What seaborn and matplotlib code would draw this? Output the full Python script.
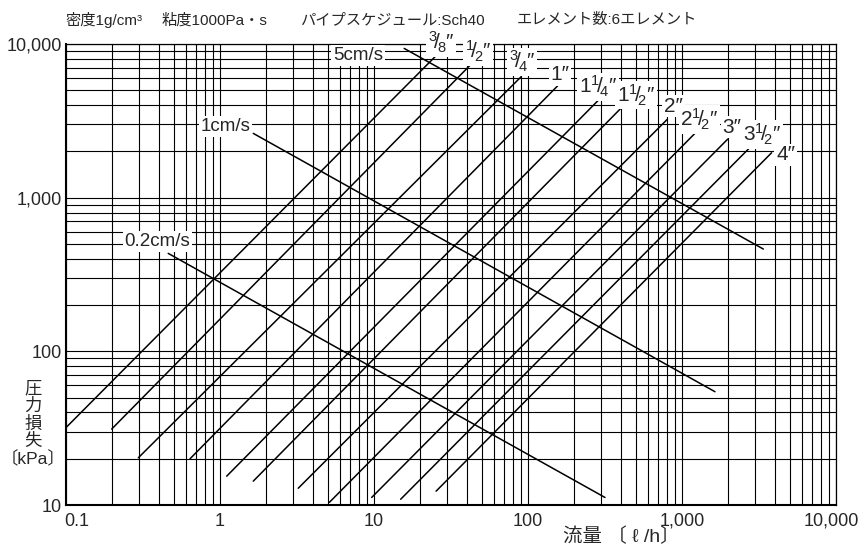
import numpy as np
import pandas as pd
import matplotlib
matplotlib.use("Agg")
import matplotlib.pyplot as plt
import seaborn as sns
from matplotlib.ticker import LogLocator, FixedLocator, NullFormatter

sns.set_style("white")
plt.rcParams['font.family'] = ['Liberation Sans', 'Noto Sans CJK JP', 'DejaVu Sans']
plt.rcParams['mathtext.fontset'] = 'custom'
plt.rcParams['mathtext.rm'] = 'Liberation Sans'
plt.rcParams['mathtext.it'] = 'Liberation Sans'
plt.rcParams['mathtext.bf'] = 'Liberation Sans:bold'

# ---- data ----
pipe_sizes = ["3/8", "1/2", "3/4", "1", "1-1/4", "1-1/2", "2", "2-1/2", "3", "3-1/2", "4"]
pipe_labels = [r"$\mathrm{^{3}\!/\!_{8}}$″", r"$\mathrm{^{1}\!/\!_{2}}$″", r"$\mathrm{^{3}\!/\!_{4}}$″",
               "1″", r"$\mathrm{1^{1}\!/\!_{4}}$″", r"$\mathrm{1^{1}\!/\!_{2}}$″", "2″",
               r"$\mathrm{2^{1}\!/\!_{2}}$″", "3″", r"$\mathrm{3^{1}\!/\!_{2}}$″", "4″"]
pipe_q_start = [0.1, 0.198, 0.295, 0.639, 1.105, 1.645, 3.22, 5.13, 9.66, 14.9, 25.3]
pipe_p_start = [31.9, 31.2, 20.3, 20.0, 15.4, 14.3, 12.85, 10.4, 11.2, 10.9, 12.3]
pipe_q_end = [24.9, 44.2, 90.2, 156, 301, 420, 804, 1245, 1982, 2838, 3818]
pipe_p_end = [8260, 7650, 6120, 5350, 4530, 4000, 3240, 2690, 2405, 2180, 1960]

vel_labels = ["0.2cm/s", "1cm/s", "5cm/s"]
vel_q_start = [0.461, 1.645, 15.7]
vel_p_start = [434, 2620, 9360]
vel_q_end = [316, 1637, 3375]
vel_p_end = [11.2, 54.6, 463]

x_ticks = [0.1, 1, 10, 100, 1000, 10000]
x_tick_labels = ["0.1", "1", "10", "100", "1,000", "10,000"]
y_ticks = [10, 100, 1000, 10000]
y_tick_labels = ["10", "100", "1,000", "10,000"]

header = ["密度1g/cm³", "粘度1000Pa・s", "パイプスケジュール:Sch40", "エレメント数:6エレメント"]

# ---- layout / style ----
W, H = 858, 549
fig = plt.figure(figsize=(W / 100, H / 100), dpi=100)
ax = fig.add_axes([66 / W, 1 - 505 / H, (836 - 66) / W, (505 - 44) / H])

pipe_df = pd.DataFrame({
    "line": pipe_sizes * 2,
    "flow": pipe_q_start + pipe_q_end,
    "pressure": pipe_p_start + pipe_p_end,
})
vel_df = pd.DataFrame({
    "line": vel_labels * 2,
    "flow": vel_q_start + vel_q_end,
    "pressure": vel_p_start + vel_p_end,
})

sns.lineplot(data=pipe_df, x="flow", y="pressure", units="line", estimator=None,
             color="black", lw=1.1, sort=False, ax=ax, zorder=3)
sns.lineplot(data=vel_df, x="flow", y="pressure", units="line", estimator=None,
             color="black", lw=1.1, sort=False, ax=ax, zorder=3)

ax.set_xscale("log")
ax.set_yscale("log")
ax.set_xlim(0.1, 10000)
ax.set_ylim(10, 10000)
ax.xaxis.set_major_locator(FixedLocator(x_ticks))
ax.yaxis.set_major_locator(FixedLocator(y_ticks))
ax.xaxis.set_minor_locator(LogLocator(base=10, subs=np.arange(2, 10), numticks=100))
ax.yaxis.set_minor_locator(LogLocator(base=10, subs=np.arange(2, 10), numticks=100))
ax.xaxis.set_minor_formatter(NullFormatter())
ax.yaxis.set_minor_formatter(NullFormatter())
ax.set_yticklabels(y_tick_labels)
ax.set_xticklabels([])
ax.tick_params(which="both", length=0)
ax.tick_params(axis="y", labelsize=13, pad=3)
ax.grid(True, which="both", color="black", lw=0.8, zorder=1)
ax.set_axisbelow(True)
for s in ax.spines.values():
    s.set_color("black")
    s.set_linewidth(0.9)
ax.spines["left"].set_linewidth(1.5)
ax.spines["bottom"].set_linewidth(1.5)
ax.set_xlabel("")
ax.set_ylabel("")

# x tick labels drawn manually (edge labels shifted like the reference)
x_label_dx = [11, 0, 0, 0, 0, -5]
for v, t, dx in zip(x_ticks, x_tick_labels, x_label_dx):
    ax.annotate(t, xy=(v, 0), xycoords=("data", "axes fraction"),
                xytext=(dx, -16), textcoords="offset pixels",
                ha="center", va="center", fontsize=13, annotation_clip=False)

# pipe labels
box = dict(facecolor="white", edgecolor="none", pad=1.2)
pipe_dx = [6, 5, 1, 2, -4, 12, 6, 3, 4, 10, 14]
pipe_dy = [14, 10, 15, 11, 10, 10, 13, 12, 12, 11, -2]
for lab, q, p, dx, dy in zip(pipe_labels, pipe_q_end, pipe_p_end, pipe_dx, pipe_dy):
    ax.annotate(lab, xy=(q, p), xytext=(dx, dy), textcoords="offset pixels",
                ha="center", va="center", fontsize=15, bbox=box, zorder=5,
                annotation_clip=False)

vel_dx = [-11, -28, -46]
vel_dy = [12, 7, -7]
for lab, q, p, dx, dy in zip(vel_labels, vel_q_start, vel_p_start, vel_dx, vel_dy):
    ax.annotate(lab, xy=(q, p), xytext=(dx, dy), textcoords="offset pixels",
                ha="center", va="center", fontsize=13.5, bbox=box, zorder=5,
                annotation_clip=False)

# header
hx = [65, 162, 300, 517]
for t, x in zip(header, hx):
    fig.text(x / W, 1 - 20 / H, t, ha="left", va="center", fontsize=11)

# axis titles
fig.text(33 / W, 1 - 424 / H, "圧\n力\n損\n失\n〔kPa〕", ha="center", va="center",
         multialignment="center", fontsize=12.5, linespacing=1.12)
fig.text(621 / W, 1 - 537 / H, "流量 〔 ℓ /h〕", ha="center", va="center", fontsize=14)

fig.savefig("out.png", dpi=100, facecolor="white")
